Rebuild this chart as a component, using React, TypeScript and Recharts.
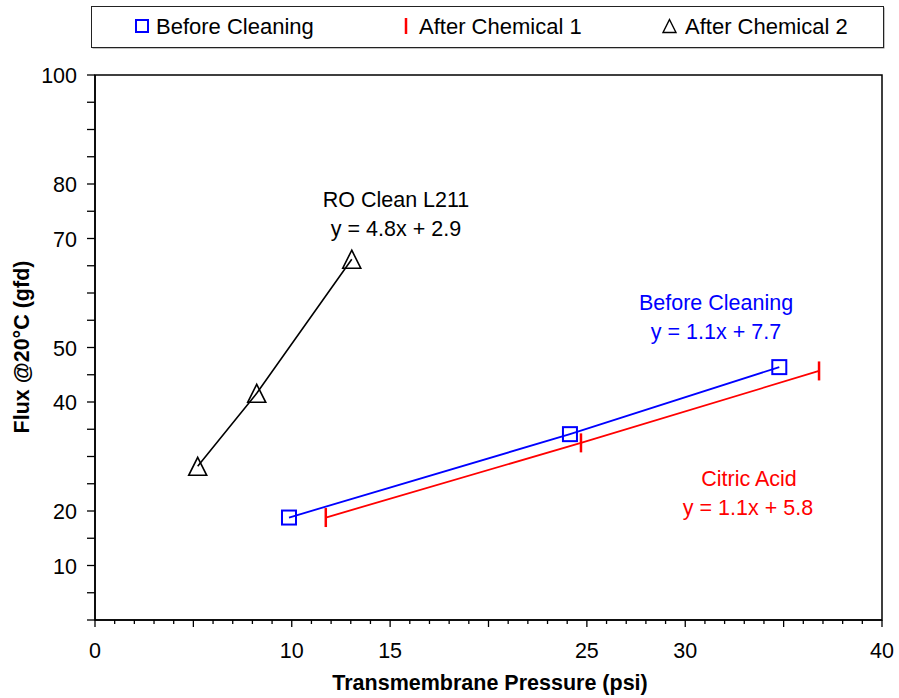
import { ScatterChart, Scatter, XAxis, YAxis, ReferenceArea, Customized } from 'recharts';

// readings taken off the original figure
const beforePressure = [9.86, 24.14, 34.78];
const beforeFlux = [18.8, 34.1, 46.4];
const chem1Pressure = [11.73, 24.7, 36.8];
const chem1Flux = [18.8, 32.5, 45.7];
const chem2Pressure = [5.22, 8.22, 13.05];
const chem2Flux = [28.2, 41.6, 66.2];

const xTicks = [0, 1, 2, 3, 4, 5, 6, 7, 8, 9, 10, 11, 12, 13, 14, 15, 16, 17, 18, 19, 20, 21, 22, 23, 24, 25, 26, 27, 28, 29, 30, 31, 32, 33, 34, 35, 36, 37, 38, 39, 40];
const xLabels = [0, 10, 15, 25, 30, 40];
const yTicks = [0, 5, 10, 15, 20, 25, 30, 35, 40, 45, 50, 55, 60, 65, 70, 75, 80, 85, 90, 95, 100];
const yLabels = [10, 20, 40, 50, 70, 80, 100];

const FONT = '"Liberation Sans", Arial, sans-serif';
const BLUE = '#0000ff';
const RED = '#ff0000';

const toPoints = (xs: number[], ys: number[]) => xs.map((x, i) => ({ x, y: ys[i] }));

const beforeData = toPoints(beforePressure, beforeFlux);
const chem1Data = toPoints(chem1Pressure, chem1Flux);
const chem2Data = toPoints(chem2Pressure, chem2Flux);

const SquareMark = (props: any) => {
  const { cx, cy } = props;
  return <rect x={cx - 7} y={cy - 7} width={14} height={14} fill="none" stroke={BLUE} strokeWidth={2} />;
};

const DashMark = (props: any) => {
  const { cx, cy } = props;
  return <line x1={cx} y1={cy - 9.5} x2={cx} y2={cy + 9.5} stroke={RED} strokeWidth={2.5} />;
};

const TriangleMark = (props: any) => {
  const { cx, cy } = props;
  return (
    <path
      d={`M${cx},${cy - 9} L${cx + 9},${cy + 9} L${cx - 9},${cy + 9} Z`}
      fill="none"
      stroke="#000"
      strokeWidth={1.6}
    />
  );
};

const XTick = (props: any) => {
  const { x, y, payload } = props;
  const v = payload.value;
  const major = v % 5 === 0;
  return (
    <g>
      <line x1={x} y1={y} x2={x} y2={y + (major ? 7 : 4)} stroke="#000" strokeWidth={1.3} />
      {xLabels.includes(v) && (
        <text x={x} y={y + 31} textAnchor="middle" dominantBaseline="central" fontSize={21.5} fontFamily={FONT} fill="#000">
          {v}
        </text>
      )}
    </g>
  );
};

const YTick = (props: any) => {
  const { x, y, payload } = props;
  const v = payload.value;
  return (
    <g>
      <line x1={x - 8} y1={y} x2={x} y2={y} stroke="#000" strokeWidth={1.3} />
      {yLabels.includes(v) && (
        <text x={x - 18} y={y + 1} textAnchor="end" dominantBaseline="central" fontSize={21.5} fontFamily={FONT} fill="#000">
          {v}
        </text>
      )}
    </g>
  );
};

const Notes = () => {
  const t = { fontSize: 21.5, fontFamily: FONT, textAnchor: 'middle' as const, dominantBaseline: 'central' as const };
  return (
    <g>
      {/* legend */}
      <rect x={92.5} y={7.5} width={792} height={41} fill="#888" />
      <rect x={91.5} y={6.5} width={792} height={41} fill="#fff" stroke="#222" strokeWidth={1} />
      <rect x={136} y={20} width={12} height={12} fill="none" stroke={BLUE} strokeWidth={2} />
      <text x={156} y={26} fontSize={22} fontFamily={FONT} dominantBaseline="central" fill="#000">Before Cleaning</text>
      <line x1={406} y1={18} x2={406} y2={34} stroke={RED} strokeWidth={2.5} />
      <text x={419} y={26} fontSize={22} fontFamily={FONT} dominantBaseline="central" fill="#000">After Chemical 1</text>
      <path d="M669.5,19.5 L676,32.5 L663,32.5 Z" fill="none" stroke="#000" strokeWidth={1.4} />
      <text x={685} y={26} fontSize={22} fontFamily={FONT} dominantBaseline="central" fill="#000">After Chemical 2</text>

      {/* trend labels */}
      <text x={396} y={200} {...t} fill="#000">RO Clean L211</text>
      <text x={396} y={229} {...t} fill="#000">y = 4.8x + 2.9</text>
      <text x={716} y={303} {...t} fill={BLUE}>Before Cleaning</text>
      <text x={716} y={332} {...t} fill={BLUE}>y = 1.1x + 7.7</text>
      <text x={749} y={479} {...t} fill={RED}>Citric Acid</text>
      <text x={748} y={508} {...t} fill={RED}>y = 1.1x + 5.8</text>

      {/* axis titles */}
      <text x={490} y={683} {...t} fontWeight="bold" fill="#000">Transmembrane Pressure (psi)</text>
      <text x={22} y={347} {...t} fontWeight="bold" fill="#000" transform="rotate(-90 22 347)">Flux @20°C (gfd)</text>
    </g>
  );
};

export default function App() {
  return (
    <div style={{ position: 'absolute', left: 0, top: 0, width: 899, height: 698, background: '#fff' }}>
      <ScatterChart width={899} height={698} margin={{ top: 75, right: 17, bottom: 0, left: 0 }}>
        <XAxis
          dataKey="x"
          type="number"
          domain={[0, 40]}
          ticks={xTicks}
          interval={0}
          height={78}
          tickSize={0}
          tickMargin={0}
          tick={<XTick />}
          axisLine={{ stroke: '#000', strokeWidth: 1.5 }}
          allowDataOverflow
        />
        <YAxis
          dataKey="y"
          type="number"
          domain={[0, 100]}
          ticks={yTicks}
          interval={0}
          width={95}
          tickSize={0}
          tickMargin={0}
          tick={<YTick />}
          axisLine={{ stroke: '#000', strokeWidth: 1.5 }}
          allowDataOverflow
        />
        <ReferenceArea x1={0} x2={40} y1={0} y2={100} fill="none" stroke="#000" strokeWidth={1.5} ifOverflow="visible" />
        <Scatter
          name="Before Cleaning"
          data={beforeData}
          line={{ stroke: BLUE, strokeWidth: 1.8 }}
          lineType="joint"
          shape={<SquareMark />}
          isAnimationActive={false}
        />
        <Scatter
          name="After Chemical 1"
          data={chem1Data}
          line={{ stroke: RED, strokeWidth: 1.8 }}
          lineType="joint"
          shape={<DashMark />}
          isAnimationActive={false}
        />
        <Scatter
          name="After Chemical 2"
          data={chem2Data}
          line={{ stroke: '#000', strokeWidth: 1.6 }}
          lineType="joint"
          shape={<TriangleMark />}
          isAnimationActive={false}
        />
        <Customized component={<Notes />} />
      </ScatterChart>
    </div>
  );
}
